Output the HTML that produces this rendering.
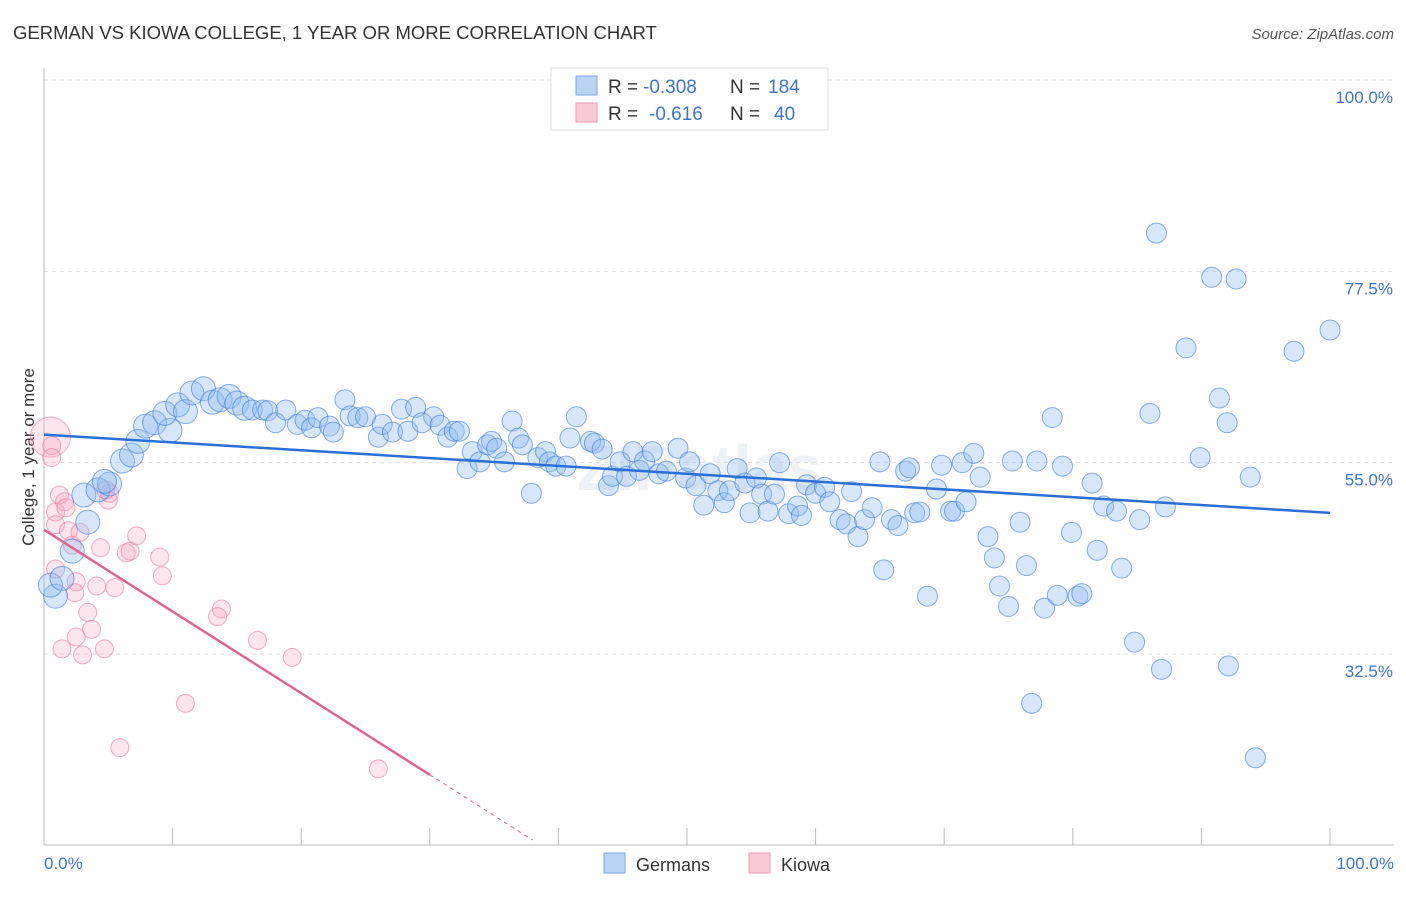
<!DOCTYPE html>
<html><head><meta charset="utf-8">
<style>
body{margin:0;background:#fff;font-family:"Liberation Sans",sans-serif;}
svg text{font-family:"Liberation Sans",sans-serif;}
</style></head>
<body>
<svg id="chart" width="1406" height="892">
<text x="13" y="39" font-size="18.5" fill="#333">GERMAN VS KIOWA COLLEGE, 1 YEAR OR MORE CORRELATION CHART</text>
<text x="1394" y="39" font-size="15" fill="#555" font-style="italic" text-anchor="end">Source: ZipAtlas.com</text>
<text x="700" y="490" font-size="64" fill="#eef1f5" text-anchor="middle" font-weight="bold">ZIPatlas</text>
<g id="grid"></g>
<line x1="44" y1="68" x2="44" y2="845" stroke="#bbb"/>
<line x1="44" y1="845" x2="1394" y2="845" stroke="#bbb"/>
<g id="ticks"></g>
<text transform="translate(34,457) rotate(-90)" font-size="17" fill="#333" text-anchor="middle">College, 1 year or more</text>
<g id="pts"></g>
<g id="trends"></g>
<text x="44" y="869" font-size="17" fill="#3d74cf">0.0%</text>
<text x="1394" y="869" font-size="17" fill="#3d74cf" text-anchor="end">100.0%</text>
<g>
<rect x="551" y="68" width="277" height="62" fill="#fff" stroke="#ddd"/>
<rect x="576" y="76" width="21" height="19" fill="#b9d3f5" stroke="#7aa6e0"/>
<rect x="576" y="103" width="21" height="19" fill="#f9c9d6" stroke="#ef9ab2"/>
<text x="608" y="93" font-size="19" fill="#333">R =</text>
<text x="643" y="93" font-size="19" fill="#3d74cf">-0.308</text>
<text x="730" y="93" font-size="19" fill="#333">N =</text>
<text x="768" y="93" font-size="19" fill="#3d74cf">184</text>
<text x="608" y="120" font-size="19" fill="#333">R =</text>
<text x="649" y="120" font-size="19" fill="#3d74cf">-0.616</text>
<text x="730" y="120" font-size="19" fill="#333">N =</text>
<text x="774" y="120" font-size="19" fill="#3d74cf">40</text>
</g>
<g>
<rect x="604" y="853" width="21" height="20" fill="#b9d3f5" stroke="#7aa6e0"/>
<text x="636" y="871" font-size="18" fill="#333">Germans</text>
<rect x="749" y="853" width="21" height="20" fill="#f9c9d6" stroke="#ef9ab2"/>
<text x="781" y="871" font-size="18" fill="#333">Kiowa</text>
</g>
</svg>
<script>
const yTicks=[100,77.5,55,32.5];
const yTickLabels=["100.0%","77.5%","55.0%","32.5%"];
const xTicks=[0,10,20,30,40,50,60,70,80,90,100];
const germanX=[0.9,0.5,1.4,2.2,3.4,3.1,4.2,5.1,4.7,6.1,6.8,7.3,7.9,8.6,9.8,9.4,10.4,11.0,11.5,12.4,13.1,13.7,14.4,15.0,15.6,16.2,17.0,17.4,18.0,18.8,19.7,20.3,20.8,21.3,22.2,22.5,23.4,23.8,24.4,25.0,26.0,26.3,27.1,27.8,28.3,28.9,29.4,30.3,30.8,31.4,31.9,32.3,32.9,33.3,33.9,34.5,34.8,35.2,35.8,36.4,36.9,37.2,37.9,38.4,39.0,39.3,39.8,40.6,40.9,41.4,42.5,42.8,43.4,43.9,44.2,44.8,45.3,45.8,46.3,46.7,47.3,47.8,48.4,49.3,49.9,50.2,50.7,51.3,51.8,52.4,52.9,53.3,53.9,54.5,54.9,55.4,55.8,56.3,56.8,57.2,57.9,58.6,58.9,59.3,60.0,60.7,61.1,61.9,62.4,62.8,63.3,63.8,64.4,65.0,65.3,65.9,66.4,67.0,67.3,67.7,68.1,68.7,69.4,69.8,70.5,70.8,71.4,71.7,72.3,72.8,73.4,73.9,74.3,75.0,75.3,75.9,76.4,76.8,77.2,77.8,78.4,78.8,79.2,79.9,80.4,80.7,81.5,81.9,82.4,83.4,83.8,84.8,85.2,86.0,86.5,86.9,87.2,88.8,89.9,90.8,91.4,92.0,92.1,92.7,93.8,94.2,97.2,100.0];
const germanY=[39.3,40.6,41.4,44.6,48.0,51.2,51.8,52.5,52.8,55.2,55.9,57.5,59.3,59.7,58.8,60.8,61.8,61.0,63.2,63.7,62.1,62.4,62.8,62.0,61.4,61.2,61.2,61.1,59.7,61.2,59.5,60.0,59.1,60.3,59.3,58.6,62.4,60.5,60.3,60.4,58.0,59.5,58.6,61.3,58.7,61.5,59.7,60.4,59.4,58.0,58.7,58.7,54.3,56.3,55.1,57.1,57.5,56.7,55.1,59.9,57.9,57.1,51.4,55.6,56.3,55.1,54.6,54.6,57.9,60.4,57.5,57.3,56.6,52.3,53.4,55.1,53.4,56.3,54.1,55.2,56.3,53.7,54.0,56.7,53.2,55.1,52.3,50.0,53.7,51.7,50.3,51.7,54.3,52.6,49.1,53.2,51.3,49.3,51.3,55.0,49.0,49.9,48.8,52.4,51.4,52.1,50.4,48.3,47.8,51.6,46.3,48.3,49.7,55.1,42.4,48.3,47.6,54.0,54.4,49.1,49.2,39.3,51.9,54.7,49.3,49.3,55.0,50.4,56.1,53.3,46.3,43.8,40.5,38.1,55.2,48.0,42.9,26.7,55.2,37.9,60.3,39.4,54.6,46.8,39.3,39.6,52.6,44.7,49.9,49.3,42.6,33.9,48.3,60.8,82.0,30.7,49.8,68.5,55.6,76.8,62.6,59.7,31.1,76.6,53.3,20.3,68.1,70.6];
const kiowaX=[0.5,0.6,0.6,0.9,0.9,1.2,1.6,0.9,1.7,1.9,2.2,2.5,2.4,2.8,2.5,1.4,3.0,3.4,3.7,4.1,4.4,4.7,5.0,5.1,5.5,6.4,6.7,7.2,9.0,9.2,11.0,5.9,13.8,13.5,16.6,19.3,26.0,4.8];
const kiowaY=[58.0,57.0,55.6,42.5,49.2,51.2,50.4,47.7,49.7,47.0,45.3,41.0,39.7,46.8,34.5,33.1,32.4,37.4,35.4,40.5,45.0,33.1,50.6,51.4,40.3,44.4,44.6,46.4,43.9,41.7,26.7,21.5,37.8,36.9,34.1,32.1,19.0,51.8];
const germanTrend=[58.3,49.1];
const kiowaTrend=[47.1,18.3];
const NS='http://www.w3.org/2000/svg';
const xs=v=>44+v*12.86;
const ys=v=>80+(100-v)*8.504;
function mk(tag,attrs,parent){const e=document.createElementNS(NS,tag);for(const k in attrs)e.setAttribute(k,attrs[k]);parent.appendChild(e);return e;}
const grid=document.getElementById('grid');
yTicks.forEach((t,i)=>{
 const l=mk('line',{x1:44,x2:1394,y1:ys(t),y2:ys(t),stroke:'#ddd','stroke-dasharray':'4,4'},grid);
 
 
 const tx=mk('text',{x:1393,y:ys(t)+23,'font-size':17,fill:'#3d74cf','text-anchor':'end'},grid);
 tx.textContent=yTickLabels[i];
 
 
});
const ticks=document.getElementById('ticks');
xTicks.forEach(t=>{
 const l=mk('line',{x1:xs(t),x2:xs(t),y1:828,y2:845,stroke:'#bbb'},ticks);
 
 
});
const pts=document.getElementById('pts');
kiowaX.forEach((x,i)=>{
 const r=i===0?20:9;
 const c=mk('circle',{cx:xs(x),cy:ys(kiowaY[i]),r:r,fill:'rgba(246,170,192,0.3)',stroke:'rgba(232,120,155,0.6)','stroke-width':1},pts);
 
 
});
germanX.forEach((x,i)=>{
 const r=x<16?12:10;
 const c=mk('circle',{cx:xs(x),cy:ys(germanY[i]),r:r,fill:'rgba(140,185,240,0.35)',stroke:'rgba(60,120,215,0.6)','stroke-width':1},pts);
 
 
});
const tr=document.getElementById('trends');
const g=mk('line',{x1:xs(0),y1:ys(germanTrend[0]),x2:xs(100),y2:ys(germanTrend[1]),stroke:'#2a6fd6','stroke-width':2.5},tr);


const k=mk('line',{x1:xs(0),y1:ys(kiowaTrend[0]),x2:xs(30),y2:ys(kiowaTrend[1]),stroke:'#e0628c','stroke-width':2.5},tr);


const slope=(kiowaTrend[1]-kiowaTrend[0])/30;
const kd=mk('line',{x1:xs(30),y1:ys(kiowaTrend[1]),x2:xs(38),y2:ys(kiowaTrend[1]+slope*8),stroke:'#e0628c','stroke-width':1,'stroke-dasharray':'4,4'},tr);


</script>
</body></html>
